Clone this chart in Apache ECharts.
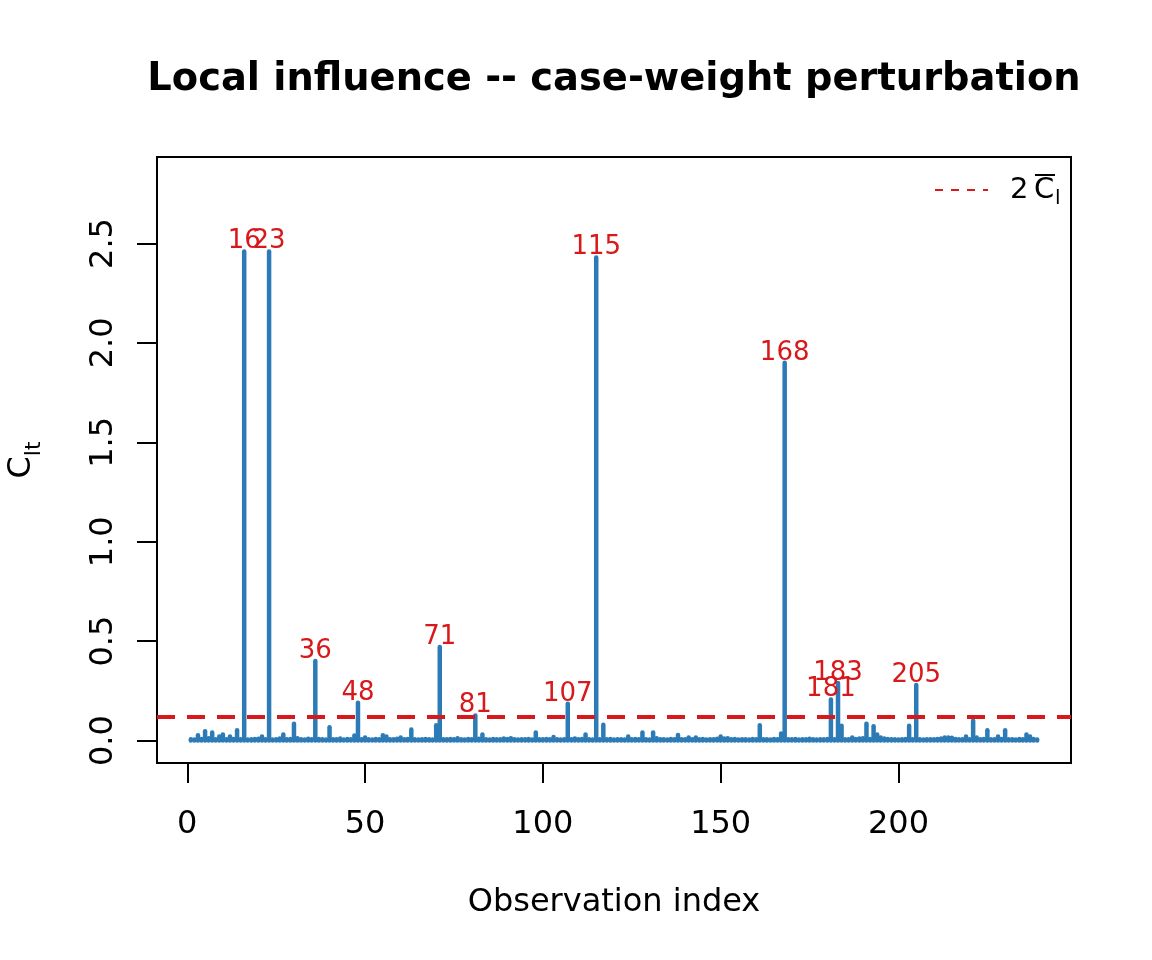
<!DOCTYPE html>
<html>
<head>
<meta charset="utf-8">
<script src="https://cdn.jsdelivr.net/npm/echarts@6/dist/echarts.min.js"></script>
<style>
  html, body { margin: 0; padding: 0; background: #fff; }
  #chart { width: 1152px; height: 960px; }
</style>
</head>
<body>
<div id="chart"></div>
<script>
// C_lt for each observation (index 1..239)
const clt = [
  0.006, 0.005, 0.027, 0.008, 0.047, 0.012, 0.040, 0.007, 0.020, 0.030,
  0.006, 0.020, 0.008, 0.052, 0.007, 2.460, 0.005, 0.006, 0.008, 0.009,
  0.020, 0.006, 2.460, 0.005, 0.007, 0.010, 0.030, 0.006, 0.008, 0.084,
  0.012, 0.007, 0.005, 0.009, 0.006, 0.400, 0.008, 0.006, 0.005, 0.067,
  0.007, 0.006, 0.010, 0.005, 0.008, 0.006, 0.025, 0.190, 0.007, 0.015,
  0.006, 0.005, 0.008, 0.006, 0.027, 0.020, 0.007, 0.006, 0.009, 0.015,
  0.006, 0.008, 0.055, 0.007, 0.005, 0.006, 0.008, 0.006, 0.005, 0.077,
  0.470, 0.007, 0.006, 0.008, 0.006, 0.012, 0.007, 0.005, 0.008, 0.006,
  0.126, 0.009, 0.030, 0.006, 0.005, 0.008, 0.006, 0.007, 0.010, 0.008,
  0.012, 0.006, 0.005, 0.007, 0.006, 0.008, 0.005, 0.040, 0.007, 0.006,
  0.008, 0.006, 0.018, 0.007, 0.005, 0.006, 0.185, 0.007, 0.010, 0.006,
  0.008, 0.030, 0.006, 0.005, 2.430, 0.007, 0.080, 0.006, 0.008, 0.005,
  0.006, 0.007, 0.005, 0.020, 0.006, 0.008, 0.006, 0.040, 0.007, 0.005,
  0.040, 0.012, 0.006, 0.007, 0.005, 0.008, 0.006, 0.028, 0.007, 0.006,
  0.015, 0.007, 0.015, 0.006, 0.008, 0.005, 0.007, 0.006, 0.009, 0.020,
  0.010, 0.012, 0.006, 0.008, 0.005, 0.007, 0.006, 0.005, 0.008, 0.006,
  0.077, 0.007, 0.006, 0.005, 0.008, 0.006, 0.035, 1.900, 0.007, 0.006,
  0.008, 0.005, 0.007, 0.006, 0.009, 0.006, 0.005, 0.007, 0.006, 0.008,
  0.206, 0.006, 0.290, 0.075, 0.007, 0.006, 0.015, 0.008, 0.010, 0.012,
  0.085, 0.008, 0.072, 0.030, 0.015, 0.010, 0.008, 0.007, 0.006, 0.005,
  0.006, 0.008, 0.075, 0.006, 0.280, 0.007, 0.005, 0.006, 0.007, 0.006,
  0.008, 0.010, 0.015, 0.015, 0.014, 0.008, 0.006, 0.007, 0.020, 0.006,
  0.100, 0.015, 0.006, 0.008, 0.052, 0.007, 0.006, 0.020, 0.008, 0.052,
  0.006, 0.007, 0.005, 0.008, 0.006, 0.030, 0.020, 0.008, 0.005
];
const flagged = [16, 23, 36, 48, 71, 81, 107, 115, 168, 181, 183, 205];
const cutoff = 0.117;   // 2 * mean C_l
const xTicks = [0, 50, 100, 150, 200];
const yTicks = [0, 0.5, 1, 1.5, 2, 2.5];

const BLUE = '#2C7BB6';
const RED = '#D7191C';
const FONT = '"DejaVu Sans", sans-serif';

const points = clt.map((v, i) => [i + 1, v]);
const flaggedPts = flagged.map(i => [i, clt[i - 1]]);

const chart = echarts.init(document.getElementById('chart'));

chart.setOption({
  animation: false,
  backgroundColor: '#fff',
  grid: {
    left: 157, top: 157, width: 914, height: 606,
    outerBoundsMode: 'none',
    containLabel: false,
    show: true, borderColor: '#000', borderWidth: 2, backgroundColor: 'transparent'
  },
  xAxis: {
    type: 'value',
    min: -8.52, max: 248.52,
    axisLine: { show: false, onZero: false },
    splitLine: { show: false },
    axisTick: { show: true, length: 20, customValues: xTicks, lineStyle: { color: '#000', width: 2 } },
    axisLabel: { customValues: xTicks, fontSize: 32, color: '#000', fontFamily: FONT, margin: 46 },
    name: 'Observation index',
    nameLocation: 'middle',
    nameGap: 124,
    nameTextStyle: { fontSize: 32, color: '#000', fontFamily: FONT }
  },
  yAxis: {
    type: 'value',
    min: -0.1129, max: 2.935,
    axisLine: { show: false, onZero: false },
    splitLine: { show: false },
    axisTick: { show: true, length: 20, customValues: yTicks, lineStyle: { color: '#000', width: 2 } },
    axisLabel: {
      customValues: yTicks, fontSize: 32, color: '#000', fontFamily: FONT, margin: 37,
      rotate: 90, formatter: v => v.toFixed(1)
    },
    name: '{c|C}{s|lt}',
    nameLocation: 'middle',
    nameRotate: 90,
    nameGap: 112,
    nameTextStyle: {
      color: '#000', fontFamily: FONT,
      rich: {
        c: { fontSize: 32, fontFamily: FONT, color: '#000' },
        s: { fontSize: 22, fontFamily: FONT, color: '#000', padding: [24, 0, 0, 0] }
      }
    }
  },
  series: [
    {
      type: 'custom',
      data: points,
      renderItem: (params, api) => {
        const p0 = api.coord([api.value(0), 0]);
        const p1 = api.coord([api.value(0), api.value(1)]);
        return {
          type: 'line',
          shape: { x1: p0[0], y1: p0[1], x2: p1[0], y2: p1[1] },
          style: { stroke: BLUE, lineWidth: 4.5, lineCap: 'round' }
        };
      },
      markLine: {
        silent: true,
        symbol: 'none',
        label: { show: false },
        lineStyle: { color: RED, width: 4, type: [18, 12], opacity: 1 },
        data: [{ yAxis: cutoff }]
      }
    },
    {
      type: 'scatter',
      data: flaggedPts,
      symbolSize: 0,
      silent: true,
      itemStyle: { opacity: 1 },
      label: {
        show: true,
        position: 'top',
        distance: -3,
        formatter: p => String(p.value[0]),
        color: RED,
        opacity: 1,
        fontSize: 26,
        fontFamily: FONT
      }
    }
  ],
  graphic: [
    {
      type: 'text', x: 614, y: 80,
      style: {
        text: 'Local influence -- case-weight perturbation',
        font: 'bold 38.4px "DejaVu Sans", sans-serif',
        fill: '#000', textAlign: 'center', textVerticalAlign: 'middle'
      }
    },
    {
      type: 'line',
      shape: { x1: 935, y1: 190, x2: 988, y2: 190 },
      style: { stroke: RED, lineWidth: 2, lineDash: [8, 8] }
    },
    {
      type: 'text', x: 1010, y: 190,
      style: { text: '2', font: '29px "DejaVu Sans", sans-serif', fill: '#000', textVerticalAlign: 'middle' }
    },
    {
      type: 'text', x: 1034, y: 190,
      style: { text: 'C', font: '29px "DejaVu Sans", sans-serif', fill: '#000', textVerticalAlign: 'middle' }
    },
    {
      type: 'line',
      shape: { x1: 1035, y1: 175, x2: 1055, y2: 175 },
      style: { stroke: '#000', lineWidth: 2 }
    },
    {
      type: 'text', x: 1055, y: 199,
      style: { text: 'l', font: '20px "DejaVu Sans", sans-serif', fill: '#000', textVerticalAlign: 'middle' }
    }
  ]
});
</script>
</body>
</html>
